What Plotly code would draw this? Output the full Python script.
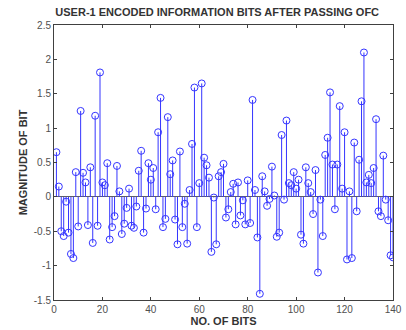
import plotly.graph_objects as go

bits = list(range(1, 141))
values = [
    0.65, 0.15, -0.50, -0.57, -0.07, -0.52, -0.83, -0.89, 0.36, -0.43,
    1.25, 0.35, 0.21, -0.41, 0.43, -0.67, 1.18, -0.42, 1.81, 0.21,
    0.17, 0.49, -0.62, -0.44, -0.28, 0.45, 0.08, -0.54, -0.39, -0.16,
    0.12, -0.42, -0.45, -0.14, 0.38, 0.67, -0.52, -0.17, 0.49, 0.25,
    0.42, -0.18, 0.94, 1.44, -0.44, -0.32, 1.16, 0.33, 0.53, -0.33,
    -0.69, 0.66, -0.44, -0.10, -0.68, 0.10, 0.77, 1.59, -0.44, 0.20,
    1.65, 0.57, 0.46, 0.28, -0.80, -0.01, -0.69, 0.30, 0.36, 0.48,
    -0.30, -0.18, 0.07, 0.19, -0.40, 0.21, -0.27, -0.05, -0.40, 0.24,
    -0.38, 1.41, 0.10, -0.59, -1.41, 0.30, 0.08, -0.13, -0.03, 0.44,
    0.02, -0.58, -0.52, 0.90, -0.04, 1.11, 0.20, 0.17, 0.36, 0.12,
    0.25, -0.55, -0.68, 0.43, 0.20, 0.07, -0.25, 0.39, -1.10, -0.04,
    -0.57, 0.61, 0.86, 1.52, 0.47, -0.18, 0.47, 1.32, 0.12, 0.94,
    -0.91, 0.08, -0.89, 0.79, -0.21, 0.54, 1.39, 2.10, 0.21, 0.32,
    0.20, 0.42, 1.13, -0.21, -0.28, 0.60, -0.04, -0.34, -0.85, -0.88,
]
x_ticks = [0, 20, 40, 60, 80, 100, 120, 140]
y_ticks = [-1.5, -1, -0.5, 0, 0.5, 1, 1.5, 2, 2.5]
y_tick_labels = ["-1.5", "-1", "-0.5", "0", "0.5", "1", "1.5", "2", "2.5"]

title_text = "USER-1 ENCODED INFORMATION BITS AFTER PASSING OFC"
x_title = "NO. OF BITS"
y_title = "MAGNITUDE OF BIT"

stem_color = "#3535ff"
axis_color = "#404040"
font_family = "Liberation Sans, Arial, sans-serif"

# stems built from data
sx, sy = [], []
for xi, yi in zip(bits, values):
    sx += [xi, xi, None]
    sy += [0, yi, None]

fig = go.Figure()
fig.add_trace(go.Scatter(x=sx, y=sy, mode="lines",
                         line=dict(color=stem_color, width=1),
                         hoverinfo="skip", showlegend=False))
fig.add_trace(go.Scatter(x=bits, y=values, mode="markers",
                         marker=dict(symbol="circle-open", size=7,
                                     color=stem_color, line=dict(width=1)),
                         showlegend=False))

fig.update_layout(
    width=406, height=330,
    margin=dict(l=54, r=13, t=25, b=30),
    paper_bgcolor="white", plot_bgcolor="white",
    font=dict(family=font_family, size=10, color=axis_color),
    title=dict(text="<b>" + title_text + "</b>", x=0.535, xanchor="center",
               y=1 - 12 / 330, yanchor="middle",
               font=dict(size=11, color="#333333", family=font_family)),
    showlegend=False,
)
fig.update_xaxes(
    range=[0, 140], tickvals=x_ticks, ticks="inside", ticklen=3,
    tickcolor=axis_color, showline=True, linecolor=axis_color, linewidth=1,
    mirror="ticks", showgrid=False, zeroline=False, automargin=False,
    tickfont=dict(size=10, color="#505050"),
    title=dict(text="<b>" + x_title + "</b>", standoff=2,
               font=dict(size=11, color="#333333")),
)
fig.update_yaxes(
    range=[-1.5, 2.5], tickvals=y_ticks, ticktext=y_tick_labels,
    ticks="inside", ticklen=3, automargin=False,
    tickcolor=axis_color, showline=True, linecolor=axis_color, linewidth=1,
    mirror="ticks", showgrid=False, zeroline=True, zerolinecolor="#606060",
    zerolinewidth=1,
    tickfont=dict(size=10, color="#505050"),
    title=dict(text="<b>" + y_title + "</b>", standoff=3,
               font=dict(size=11, color="#333333")),
)

fig.write_html("out.html")
